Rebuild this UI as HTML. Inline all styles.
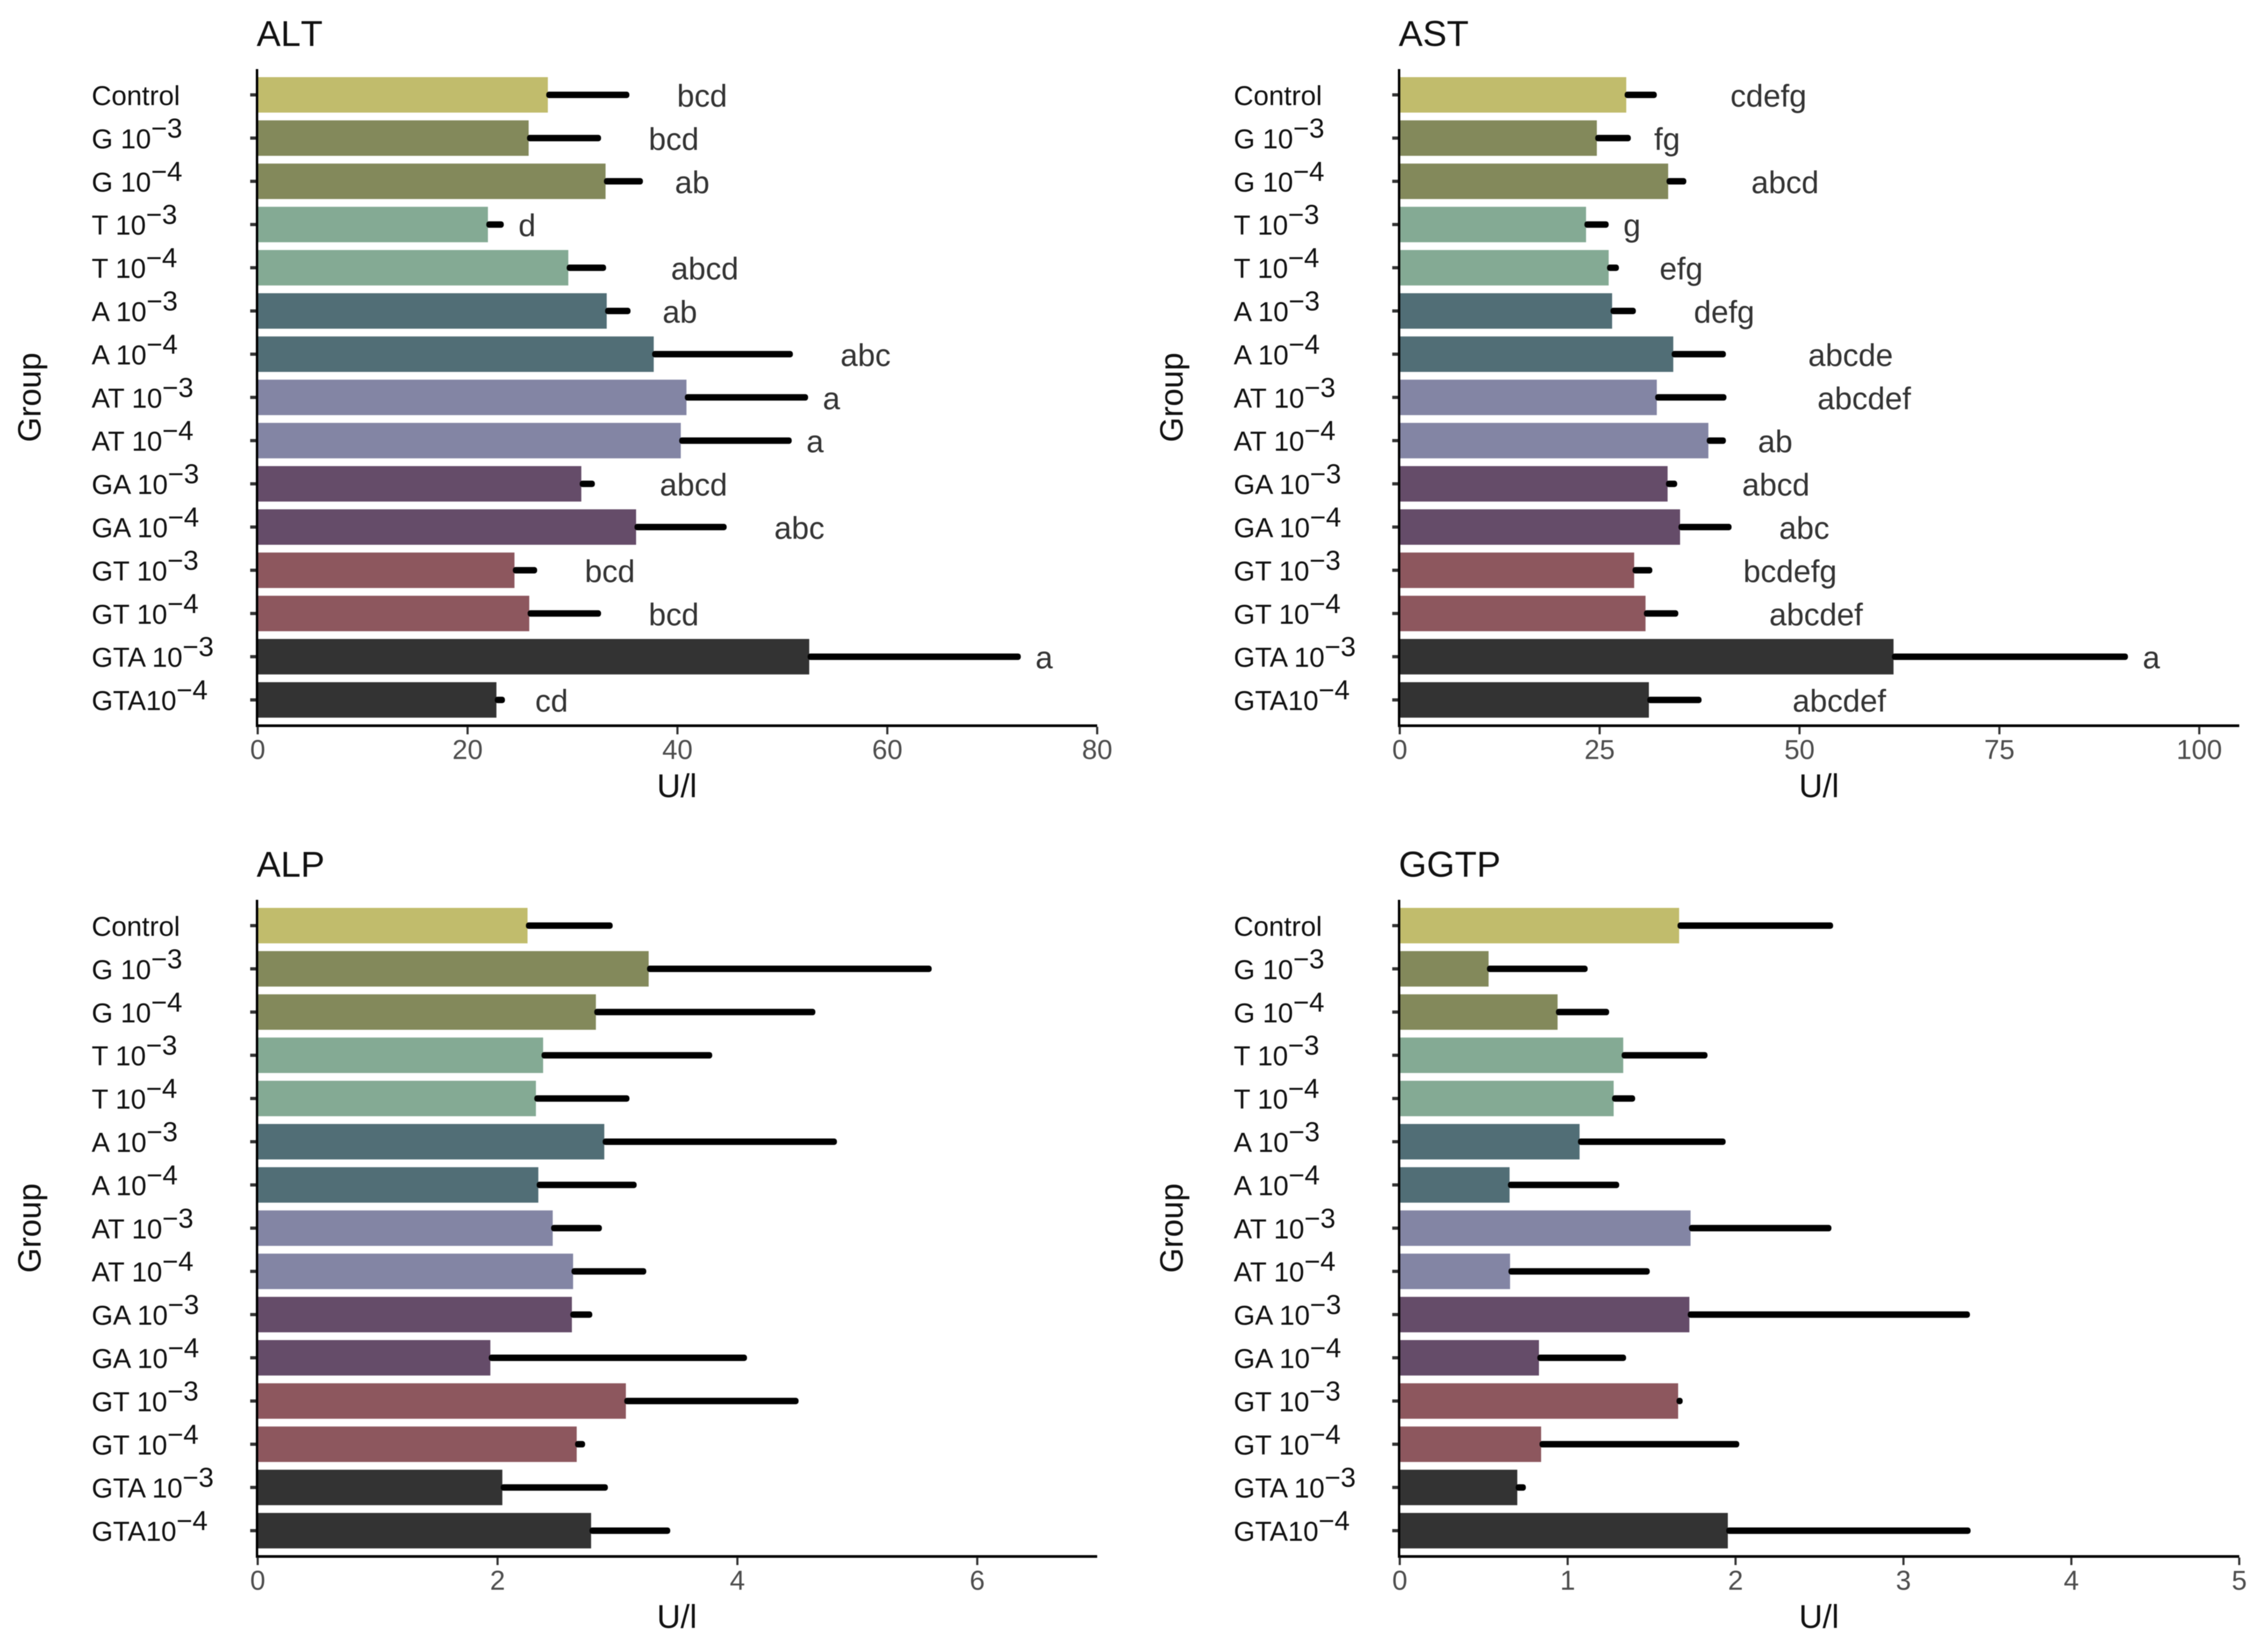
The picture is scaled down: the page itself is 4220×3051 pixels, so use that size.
<!DOCTYPE html>
<html lang="en">
<head>
<meta charset="utf-8">
<title>Liver enzyme bar charts</title>
<style>
  html, body { margin: 0; padding: 0; background: #ffffff; }
  body { width: 4220px; height: 3051px; overflow: hidden; }
  svg { display: block; filter: blur(0.9px); font-family: "Liberation Sans", Arial, sans-serif; }
</style>
</head>
<body>
<svg id="figure" xmlns="http://www.w3.org/2000/svg" width="4220" height="3051" viewBox="0 0 4220 3051">
  <rect x="0" y="0" width="4220" height="3051" fill="#ffffff"></rect>
</svg>
<script>
// Shared categories
const groupNames = ["Control", "G 10", "G 10", "T 10", "T 10", "A 10", "A 10", "AT 10", "AT 10", "GA 10", "GA 10", "GT 10", "GT 10", "GTA 10", "GTA10"];
const groupExponents = ["", "\u22123", "\u22124", "\u22123", "\u22124", "\u22123", "\u22124", "\u22123", "\u22124", "\u22123", "\u22124", "\u22123", "\u22124", "\u22123", "\u22124"];
const groupColors = ["#c1bc6c", "#83895b", "#83895b", "#84aa94", "#84aa94", "#516e76", "#516e76", "#8385a4", "#8385a4", "#654c69", "#654c69", "#8d575e", "#8d575e", "#333333", "#333333"];

// ALT
const altMeans = [27.65, 25.82, 33.15, 21.94, 29.6, 33.26, 37.74, 40.86, 40.32, 30.84, 36.06, 24.47, 25.88, 52.56, 22.75];
const altErrorEnds = [35.42, 32.72, 36.71, 23.45, 33.2, 35.53, 51.0, 52.45, 50.89, 32.13, 44.69, 26.63, 32.72, 72.72, 23.56];
const altLetters = ["bcd", "bcd", "ab", "d", "abcd", "ab", "abc", "a", "a", "abcd", "abc", "bcd", "bcd", "a", "cd"];
const altTicks = [0, 20, 40, 60, 80];

// AST
const astMeans = [28.33, 24.65, 33.57, 23.3, 26.13, 26.56, 34.21, 32.15, 38.6, 33.5, 35.06, 29.32, 30.74, 61.76, 31.16];
const astErrorEnds = [32.15, 28.9, 35.84, 26.13, 27.41, 29.53, 40.79, 40.86, 40.79, 34.7, 41.5, 31.59, 34.84, 91.08, 37.75];
const astLetters = ["cdefg", "fg", "abcd", "g", "efg", "defg", "abcde", "abcdef", "ab", "abcd", "abc", "bcdefg", "abcdef", "a", "abcdef"];
const astTicks = [0, 25, 50, 75, 100];

// ALP
const alpMeans = [2.25, 3.26, 2.82, 2.38, 2.32, 2.89, 2.34, 2.46, 2.63, 2.62, 1.94, 3.07, 2.66, 2.04, 2.78];
const alpErrorEnds = [2.96, 5.62, 4.65, 3.79, 3.10, 4.83, 3.16, 2.87, 3.24, 2.79, 4.08, 4.51, 2.73, 2.92, 3.44];
const alpLetters = [];
const alpTicks = [0, 2, 4, 6];

// GGTP
const ggtpMeans = [1.664, 0.529, 0.94, 1.331, 1.274, 1.071, 0.654, 1.732, 0.657, 1.725, 0.829, 1.658, 0.842, 0.70, 1.954];
const ggtpErrorEnds = [2.581, 1.119, 1.247, 1.833, 1.402, 1.941, 1.307, 2.571, 1.489, 3.396, 1.348, 1.685, 2.022, 0.751, 3.40];
const ggtpLetters = [];
const ggtpTicks = [0, 1, 2, 3, 4, 5];

const SVGNS = "http://www.w3.org/2000/svg";
const figure = document.getElementById("figure");

function make(parent, tag, props, text) {
  const el = document.createElementNS(SVGNS, tag);
  for (const k in props) el.setAttribute(k, props[k]);
  if (text !== undefined) el.textContent = text;
  parent.appendChild(el);
  return el;
}

function drawPanel(title, means, errorEnds, letters, ticks, domainMax, left, firstRowY) {
  const key = title.toLowerCase();
  const rowStep = 80.4;
  const barHeight = 66;
  const plotWidth = 1562;
  const x = function (v) { return left + (v / domainMax) * plotWidth; };
  const y = function (i) { return firstRowY + i * rowStep; };
  const plotTop = firstRowY - 48;
  const plotBottom = firstRowY + (groupNames.length - 1) * rowStep + 48;

  const panel = make(figure, "g", {});
  
  

  const titleEl = make(panel, "text", { x: left - 2, y: firstRowY - 91, "font-size": 67, fill: "#111111", style: "font-kerning:none" }, title);
  
  

  means.forEach(function (value, i) {
    const bar = make(panel, "rect", { x: x(0), y: y(i) - barHeight / 2, width: x(value) - x(0), height: barHeight, fill: groupColors[i] });
    
    
  });

  errorEnds.forEach(function (value, i) {
    const err = make(panel, "rect", { x: x(means[i]) - 3, y: y(i) - 6, width: x(value) - x(means[i]) + 3, height: 12, rx: 5, fill: "#000000" });
    
    
  });

  letters.forEach(function (letter, i) {
    const lab = make(panel, "text", { x: x(errorEnds[i]), y: y(i) + 22, "font-size": 58, fill: "#333333" }, letter);
    
    
    // label sits one text-width past the error bar end (hjust = -1)
    lab.setAttribute("x", x(errorEnds[i]) + lab.getComputedTextLength() - 5);
  });

  groupNames.forEach(function (name, i) {
    const tick = make(panel, "rect", { x: left - 14, y: y(i) - 3, width: 14, height: 6, fill: "#333333" });
    
    

    const lab = make(panel, "text", { x: left - 309, y: y(i) + 19, "font-size": 51, fill: "#111111" });
    
    
    make(lab, "tspan", {}, name);
    if (groupExponents[i]) {
      make(lab, "tspan", { dy: -20 }, groupExponents[i]);
    }
  });

  const yAxis = make(panel, "rect", { x: left - 3.5, y: plotTop, width: 4.5, height: plotBottom - plotTop + 2, fill: "#000000" });
  
  

  const xAxis = make(panel, "rect", { x: left - 3.5, y: plotBottom - 2.5, width: plotWidth + 3.5, height: 5, fill: "#000000" });
  
  

  ticks.forEach(function (value) {
    const tick = make(panel, "rect", { x: x(value) - 2, y: plotBottom + 2, width: 4, height: 14, fill: "#333333" });
    
    

    const lab = make(panel, "text", { x: x(value), y: plotBottom + 62, "font-size": 51, fill: "#4d4d4d", "text-anchor": "middle" }, String(value));
    
    
  });

  const xTitle = make(panel, "text", { x: left + plotWidth / 2 - 1, y: plotBottom + 133, "font-size": 61, fill: "#111111", "text-anchor": "middle" }, "U/l");
  
  

  const midY = (plotTop + plotBottom) / 2;
  const titleX = left - 404;
  const yTitle = make(panel, "text", { x: titleX, y: midY, "font-size": 60, fill: "#111111", "text-anchor": "middle", transform: "rotate(-90 " + titleX + " " + midY + ")" }, "Group");
  
  
}

drawPanel("ALT", altMeans, altErrorEnds, altLetters, altTicks, 80, 479.5, 176.5);
drawPanel("AST", astMeans, astErrorEnds, astLetters, astTicks, 105, 2604.5, 176.5);
drawPanel("ALP", alpMeans, alpErrorEnds, alpLetters, alpTicks, 7, 479.5, 1722);
drawPanel("GGTP", ggtpMeans, ggtpErrorEnds, ggtpLetters, ggtpTicks, 5, 2604.5, 1722);
</script>
</body>
</html>
